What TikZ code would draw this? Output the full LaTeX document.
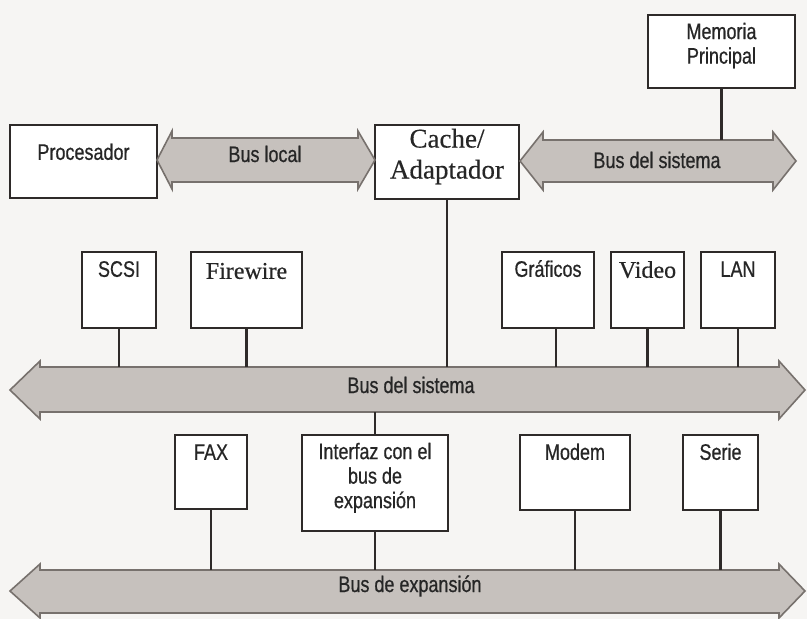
\documentclass[tikz,border=0pt]{standalone}
\usepackage{fontspec}
\setmainfont{Liberation Sans}
\newfontfamily\narrowsans[FakeStretch=0.8, FakeBold=0.6]{Liberation Sans}
\newfontfamily\boxserif[FakeBold=0.4]{Liberation Serif}
\usetikzlibrary{positioning}
\definecolor{paper}{HTML}{F6F5F3}
\definecolor{busfill}{HTML}{C6C1BD}
\definecolor{busline}{HTML}{77716D}
\definecolor{boxline}{HTML}{2E2A29}
\tikzset{
  unit/.style = {draw = boxline, line width = 2.8pt, fill = white!98!paper, inner sep = 0pt},
  tag/.style = {inner sep = 0pt, text height = 16pt, text depth = 5pt, text = black!85, font = \narrowsans\fontsize{22.5}{25}\selectfont},
  tags/.style = {inner sep = 0pt, align = center, text = black!85, font = \narrowsans\fontsize{22.5}{24.5}\selectfont},
  stag/.style = {inner sep = 0pt, text height = 16pt, text depth = 5pt, text = black!85, font = \boxserif\fontsize{24}{26}\selectfont},
  bus/.style = {draw = busline, line width = 1.6pt, fill = busfill, line join = miter},
  wire/.style = {draw = boxline, line width = 2.8pt}
}
\begin{document}
\begin{tikzpicture}[x = 1pt, y = -1pt]
\fill [paper] (0, 0) rectangle (807, 619);
% boxes
\node [unit, minimum width = 147pt, minimum height = 73pt] (memo) at (721.5, 51.5) {};
\node [unit, minimum width = 147pt, minimum height = 73pt] (proc) at (83.5, 161.5) {};
\node [unit, minimum width = 144pt, minimum height = 74pt] (cache) at (447, 162) {};
\node [unit, minimum width = 74pt, minimum height = 76pt] (scsi) at (119, 290) {};
\node [unit, minimum width = 111pt, minimum height = 76pt] (fire) at (246.5, 290) {};
\node [unit, minimum width = 92pt, minimum height = 76pt] (graf) at (548, 290) {};
\node [unit, minimum width = 73pt, minimum height = 76pt] (video) at (647.5, 290) {};
\node [unit, minimum width = 74pt, minimum height = 76pt] (lan) at (738, 290) {};
\node [unit, minimum width = 72pt, minimum height = 74pt] (fax) at (211, 472) {};
\node [unit, minimum width = 146pt, minimum height = 96pt] (intf) at (375, 483) {};
\node [unit, minimum width = 110pt, minimum height = 75pt] (modem) at (575, 472.5) {};
\node [unit, minimum width = 75pt, minimum height = 75pt] (serie) at (720.5, 472.5) {};
% box texts
\node [tags, below = 9pt of memo.north] (memotxt) {Memoria\\Principal};
\node [tag, below = 20pt of proc.north] (proctxt) {Procesador};
\node [tags, below = 5pt of cache.north, font = \boxserif\fontsize{27}{31}\selectfont] (cachetxt) {Cache/\\Adaptador};
\node [tag, below = 10pt of scsi.north] (scsitxt) {SCSI};
\node [stag, below = 12pt of fire.north] (firetxt) {Firewire};
\node [tag, below = 10pt of graf.north] (graftxt) {Gráficos};
\node [stag, below = 11pt of video.north] (videotxt) {Video};
\node [tag, below = 10pt of lan.north] (lantxt) {LAN};
\node [tag, below = 10pt of fax.north] (faxtxt) {FAX};
\node [tags, below = 9pt of intf.north] (intftxt) {Interfaz con el\\bus de\\expansión};
\node [tag, below = 10pt of modem.north] (modemtxt) {Modem};
\node [tag, below = 10pt of serie.north] (serietxt) {Serie};
% buses
\draw [bus] (157, 160) -- (172, 131) -- (172, 138) -- (358, 138) -- (358, 131) -- (375, 160) -- (358, 189) -- (358, 182) -- (172, 182) -- (172, 189) -- cycle;
\draw [bus] (520, 161) -- (543, 132) -- (543, 140) -- (773, 140) -- (773, 132) -- (796, 161) -- (773, 190) -- (773, 182) -- (543, 182) -- (543, 190) -- cycle;
\draw [bus] (10, 390) -- (40, 361) -- (40, 367) -- (779, 367) -- (779, 361) -- (805, 390) -- (779, 419) -- (779, 412) -- (40, 412) -- (40, 419) -- cycle;
\draw [bus] (10, 591) -- (40, 564) -- (40, 570) -- (779, 570) -- (779, 564) -- (805, 591) -- (779, 618) -- (779, 613) -- (40, 613) -- (40, 618) -- cycle;
\node [tag] (localbus) at (265, 156.5) {Bus local};
\node [tag] (membus) at (657, 162.5) {Bus del sistema};
\node [tag] (sysbus) at (411, 387.5) {Bus del sistema};
\node [tag] (expbus) at (410, 586.5) {Bus de expansión};
\coordinate (memtop) at (0, 140);
\coordinate (systop) at (0, 367);
\coordinate (sysbot) at (0, 412);
\coordinate (exptop) at (0, 570);
% wires
\draw [wire] (memo.south) -- (memo.south |- memtop);
\draw [wire] (cache.south) -- (cache.south |- systop);
\draw [wire] (scsi.south) -- (scsi.south |- systop);
\draw [wire] (fire.south) -- (fire.south |- systop);
\draw [wire] ([xshift = 8pt]graf.south) -- ([xshift = 8pt]graf.south |- systop);
\draw [wire] (video.south) -- (video.south |- systop);
\draw [wire] (lan.south) -- (lan.south |- systop);
\draw [wire] (intf.north) -- (intf.north |- sysbot);
\draw [wire] (fax.south) -- (fax.south |- exptop);
\draw [wire] (intf.south) -- (intf.south |- exptop);
\draw [wire] (modem.south) -- (modem.south |- exptop);
\draw [wire] (serie.south) -- (serie.south |- exptop);
\end{tikzpicture}
\end{document}
